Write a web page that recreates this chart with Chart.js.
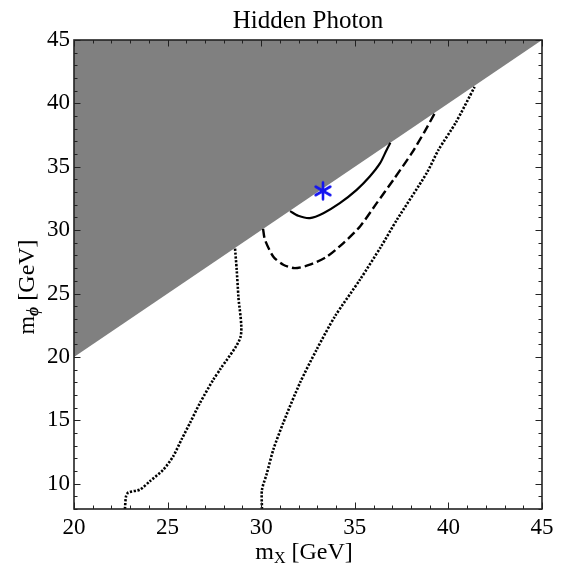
<!DOCTYPE html>
<html>
<head>
<meta charset="utf-8">
<script src="https://cdn.jsdelivr.net/npm/chart.js@4"></script>
<style>
  html, body { margin: 0; padding: 0; background: #fff; }
</style>
</head>
<body>
<canvas id="chart" width="563" height="565"></canvas>
<script>
// --- 1. DATA (GeV) ---
const xTicks = [20, 25, 30, 35, 40, 45];
const yTicks = [10, 15, 20, 25, 30, 35, 40, 45];

// kinematic edge m_phi = m_X, region above it is shaded
const edgeX = [20, 45];
const edgeY = [20, 45];

const solidX = [31.54, 31.98, 32.6, 33.32, 34.2, 35.1, 35.8, 36.35, 36.7, 36.9];
const solidY = [31.5, 31.13, 30.95, 31.34, 32.13, 33.18, 34.23, 35.28, 36.33, 36.9];

const dashedX = [30.1, 30.2, 30.65, 31.18, 31.8, 32.6, 33.5, 34.39, 35.28, 36.17, 37.06, 38.04, 38.7, 39.3];
const dashedY = [30.1, 29.24, 27.9, 27.27, 27.0, 27.27, 27.9, 28.98, 30.29, 32.13, 33.97, 36.07, 37.7, 39.3];

const dotLeftX = [22.72, 22.78, 22.9, 23.53, 24.06, 24.77, 25.3, 25.75, 26.2, 26.73, 27.44, 27.8, 28.9, 28.78, 28.69, 28.6];
const dotLeftY = [8.0, 9.0, 9.3, 9.54, 10.2, 11.1, 12.16, 13.5, 14.8, 16.37, 18.2, 19.0, 21.6, 24.77, 26.9, 28.6];

const dotRightX = [30.04, 30.04, 30.3, 30.65, 31.18, 32.07, 32.96, 33.94, 35.28, 36.4, 37.24, 38.84, 39.47, 40.4, 41.4];
const dotRightY = [8.0, 9.5, 10.8, 12.7, 14.8, 17.95, 20.57, 23.2, 26.1, 28.7, 30.8, 34.5, 36.33, 38.5, 41.3];

const starX = [33.3];
const starY = [33.1];

const pts = (xs, ys) => xs.map((x, i) => ({ x: x, y: ys[i] }));

// --- 2. STYLE HELPERS ---
const serif = "'Liberation Serif', 'DejaVu Serif', serif";

// six-armed blue asterisk used as the benchmark marker
const starImg = document.createElement('canvas');
starImg.width = 22;
starImg.height = 22;
const sc = starImg.getContext('2d');
sc.strokeStyle = '#1414f0';
sc.lineWidth = 2.6;
sc.lineCap = 'round';
sc.beginPath();
for (let k = 0; k < 3; k++) {
    const a = Math.PI / 2 + k * Math.PI / 3;
    sc.moveTo(11 - 8.5 * Math.cos(a), 11 - 8.5 * Math.sin(a));
    sc.lineTo(11 + 8.5 * Math.cos(a), 11 + 8.5 * Math.sin(a));
}
sc.stroke();

// frame, inward ticks on all four sides, axis titles with subscripts
const framePlugin = {
    id: 'frame',
    afterDatasetsDraw(chart) {
        const { ctx, chartArea: a, scales: { x, y } } = chart;
        ctx.save();
        ctx.strokeStyle = '#222';
        ctx.lineWidth = 1;
        ctx.beginPath();
        for (let v = Math.ceil(x.min); v <= x.max; v++) {
            const px = Math.round(x.getPixelForValue(v)) + 0.5;
            const len = v % 5 ? 3.5 : 6.5;
            ctx.moveTo(px, a.bottom); ctx.lineTo(px, a.bottom - len);
            ctx.moveTo(px, a.top); ctx.lineTo(px, a.top + len);
        }
        for (let v = Math.ceil(y.min); v <= y.max; v++) {
            const py = Math.round(y.getPixelForValue(v)) + 0.5;
            const len = v % 5 ? 3.5 : 6.5;
            ctx.moveTo(a.left, py); ctx.lineTo(a.left + len, py);
            ctx.moveTo(a.right, py); ctx.lineTo(a.right - len, py);
        }
        ctx.stroke();
        ctx.lineWidth = 1.6;
        ctx.strokeRect(a.left, a.top, a.right - a.left, a.bottom - a.top);

        // axis titles
        ctx.fillStyle = '#000';
        ctx.textBaseline = 'alphabetic';
        const drawTitle = (parts, cx, cy) => {
            let w = 0;
            parts.forEach(p => { ctx.font = p.font; w += ctx.measureText(p.text).width; });
            let cur = cx - w / 2;
            parts.forEach(p => {
                ctx.font = p.font;
                ctx.fillText(p.text, cur, cy + (p.dy || 0));
                cur += ctx.measureText(p.text).width;
            });
        };
        const main = '24px ' + serif;
        const sub = '16px ' + serif;
        drawTitle([
            { text: 'm', font: main },
            { text: 'X', font: sub, dy: 4 },
            { text: ' [GeV]', font: main }
        ], 304, 559);

        ctx.translate(34, 287);
        ctx.rotate(-Math.PI / 2);
        drawTitle([
            { text: 'm', font: main },
            { text: '\u03D5', font: 'bold italic 16px ' + serif, dy: 4 },
            { text: ' [GeV]', font: main }
        ], 0, 0);
        ctx.restore();
    }
};

// --- 3. CHART ---
const lineBase = { pointRadius: 0, fill: false, tension: 0.25, borderColor: '#000' };

new Chart(document.getElementById('chart'), {
    type: 'line',
    data: {
        datasets: [
            { data: pts(edgeX, edgeY), borderWidth: 0, pointRadius: 0, fill: 'end',
              backgroundColor: '#808080', tension: 0, order: 10 },
            Object.assign({ data: pts(solidX, solidY), borderWidth: 2.2 }, lineBase),
            Object.assign({ data: pts(dashedX, dashedY), borderWidth: 2.4, borderDash: [9, 4] }, lineBase),
            Object.assign({ data: pts(dotLeftX, dotLeftY), borderWidth: 2.6, borderDash: [2.2, 1.6] }, lineBase),
            Object.assign({ data: pts(dotRightX, dotRightY), borderWidth: 2.6, borderDash: [2.2, 1.6] }, lineBase),
            { data: pts(starX, starY), showLine: false, pointStyle: starImg, pointRadius: 10, order: 0 }
        ]
    },
    options: {
        responsive: false,
        animation: false,
        layout: { padding: { left: 0, right: 21, top: 0, bottom: 0 } },
        plugins: {
            legend: { display: false },
            tooltip: { enabled: false },
            title: {
                display: true,
                fullSize: false,
                text: 'Hidden Photon',
                color: '#000',
                font: { family: serif, size: 25, weight: 'normal' },
                padding: { top: 6, bottom: 4 }
            }
        },
        scales: {
            x: {
                type: 'linear',
                min: xTicks[0],
                max: xTicks[xTicks.length - 1],
                grid: { display: false, drawTicks: false },
                border: { display: false },
                ticks: { stepSize: 5, color: '#000', padding: 5, maxRotation: 0,
                         font: { family: serif, size: 23 } },
                afterBuildTicks: s => { s.ticks = xTicks.map(v => ({ value: v })); },
                afterFit: s => { s.height = 56; }
            },
            y: {
                type: 'linear',
                min: 8,
                max: yTicks[yTicks.length - 1],
                grid: { display: false, drawTicks: false },
                border: { display: false },
                ticks: { stepSize: 5, color: '#000', padding: 4,
                         font: { family: serif, size: 23 } },
                afterBuildTicks: s => { s.ticks = yTicks.map(v => ({ value: v })); },
                afterFit: s => { s.width = 74; }
            }
        }
    },
    plugins: [framePlugin]
});
</script>
</body>
</html>
